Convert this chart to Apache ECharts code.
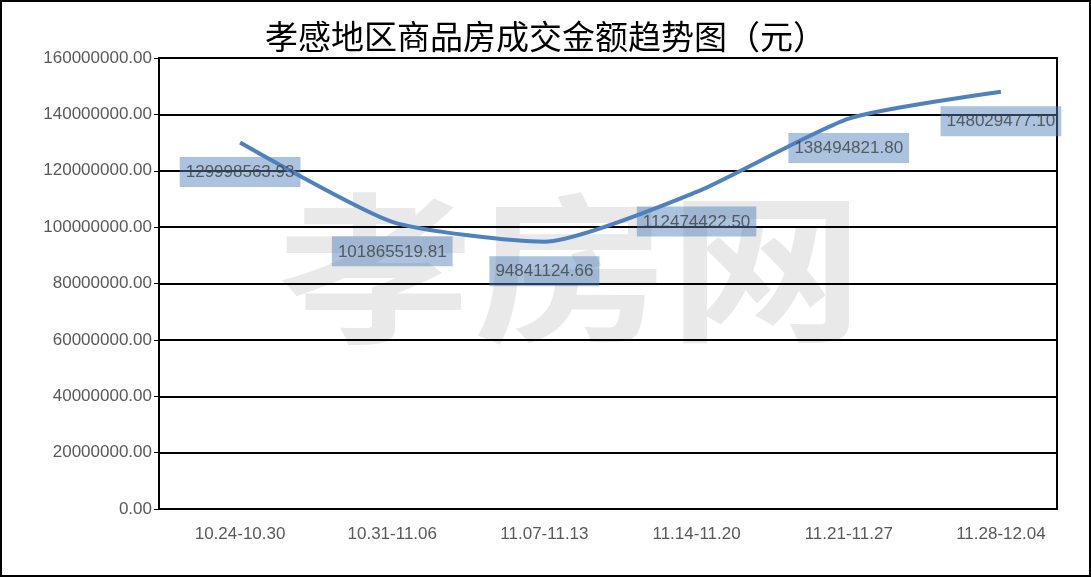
<!DOCTYPE html>
<html><head><meta charset="utf-8">
<script src="https://cdn.jsdelivr.net/npm/echarts@6/dist/echarts.min.js"></script>
<style>html,body{margin:0;padding:0;background:#fff}#c{width:1091px;height:577px}</style>
</head><body><div id="c"></div>
<script>
var categories = ['10.24-10.30','10.31-11.06','11.07-11.13','11.14-11.20','11.21-11.27','11.28-12.04'];
var amounts = [129998563.93, 101865519.81, 94841124.66, 112474422.50, 138494821.80, 148029477.10];
var titleText = '孝感地区商品房成交金额趋势图（元）';
var watermarkText = '孝房网';

var chart = echarts.init(document.getElementById('c'));
var lab = {color: '#595959', fontFamily: 'Liberation Sans', fontSize: 17};
chart.setOption({
  animation: false,
  backgroundColor: '#fff',
  title: {
    text: titleText, left: 'center', top: 15,
    textStyle: {fontFamily: 'Noto Sans CJK SC', fontSize: 33, fontWeight: 'normal', color: '#000'}
  },
  graphic: [
    {type: 'rect', z: 100, silent: true, shape: {x: 1, y: 1, width: 1089, height: 575},
     style: {fill: 'none', stroke: '#000', lineWidth: 2}},
    {type: 'text', z: -10, silent: true, left: 278, top: 188, scaleX: 1.22,
     style: {text: watermarkText, font: 'bold 160px "Noto Sans CJK SC"', fill: '#e9e9e9'}}
  ],
  grid: [
    {left: 159, right: 34, top: 58, bottom: 68, show: true, borderColor: '#000', borderWidth: 2, backgroundColor: 'transparent'},
    {left: 164, right: 14, top: 58, bottom: 68}
  ],
  xAxis: [
    {type: 'category', gridIndex: 0, data: categories, boundaryGap: true,
     axisLine: {lineStyle: {color: '#000', width: 2}}, axisTick: {show: false}, axisLabel: {show: false}},
    {type: 'category', gridIndex: 1, data: categories, boundaryGap: true,
     axisLine: {show: false}, axisTick: {show: false},
     axisLabel: Object.assign({margin: 17}, lab)}
  ],
  yAxis: [
    {type: 'value', gridIndex: 0, min: 0, max: 160000000, interval: 20000000,
     axisLine: {show: true, lineStyle: {color: '#000', width: 2}},
     axisTick: {show: true, length: 5, lineStyle: {color: '#000', width: 1}},
     splitLine: {lineStyle: {color: '#000', width: 2}},
     axisLabel: Object.assign({margin: 7, formatter: function (v) { return v.toFixed(2); }}, lab)},
    {type: 'value', gridIndex: 1, min: 0, max: 160000000, interval: 20000000, show: false,
     splitLine: {show: false}}
  ],
  series: [{
    type: 'line', xAxisIndex: 1, yAxisIndex: 1, data: amounts, smooth: 0.2, z: 2,
    symbol: 'none',
    lineStyle: {color: '#4F81BD', width: 4}
  }, {
    type: 'scatter', xAxisIndex: 1, yAxisIndex: 1, data: amounts, z: 5,
    symbolSize: 1, itemStyle: {color: 'rgba(0,0,0,0)'}, silent: true,
    label: {
      show: true, position: 'bottom', distance: 14,
      formatter: function (p) { return p.value.toFixed(2); },
      color: '#404040', fontFamily: 'Liberation Sans', fontSize: 17,
      backgroundColor: 'rgba(79,129,189,0.6)', padding: [7, 6, 6, 6]
    }
  }]
});
</script></body></html>
